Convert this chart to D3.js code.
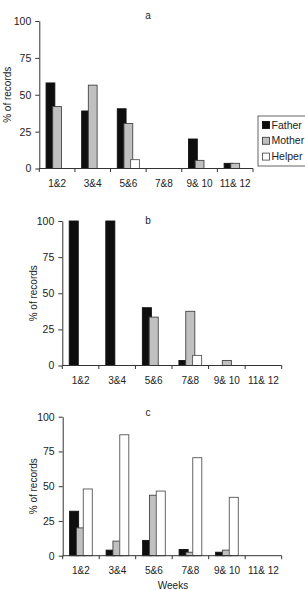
<!DOCTYPE html>
<html>
<head>
<meta charset="utf-8">
<script src="https://cdn.jsdelivr.net/npm/d3@7"></script>
<style>
  body { margin: 0; background: #fff; }
  svg { display: block; font-family: "Liberation Sans", Arial, sans-serif; }
</style>
</head>
<body>
<div id="container"></div>
<script>
// data (% of records per 2-week period)
const weeks = ["1&2", "3&4", "5&6", "7&8", "9& 10", "11& 12"];
const series = ["Father", "Mother", "Helper"];
const yTicks = [0, 25, 50, 75, 100];

const fatherA = [58, 39, 40.5, 0, 20, 3.5];
const motherA = [42, 56.5, 30.5, 0, 5.5, 3.5];
const helperA = [0, 0, 6, 0, 0, 0];

const fatherB = [100, 100, 40, 3.5, 0, 0];
const motherB = [0, 0, 33.5, 37.5, 3.5, 0];
const helperB = [0, 0, 0, 7, 0, 0];

const fatherC = [32, 4, 11, 4.5, 2.5, 0];
const motherC = [20, 10.5, 43.5, 2.5, 4, 0];
const helperC = [48, 87, 46.5, 70.5, 42, 0];

const panels = [
  { label: "a", values: [fatherA, motherA, helperA], left: 39.3, right: 253, top: 21, bottom: 168.5, titleY: 18.5, yTitleX: 7, legend: true },
  { label: "b", values: [fatherB, motherB, helperB], left: 62.3, right: 281.7, top: 221, bottom: 365.5, titleY: 223.5, yTitleX: 33 },
  { label: "c", values: [fatherC, motherC, helperC], left: 62.7, right: 281.7, top: 416.7, bottom: 555.7, titleY: 416, yTitleX: 33, xTitle: "Weeks" }
];

const fills = { Father: "#0e0e0e", Mother: "#c0c0c0", Helper: "#ffffff" };
const strokes = { Father: "#111", Mother: "#444", Helper: "#555" };

const W = 305, H = 590;
const svg = d3.select("#container").append("svg")
  .attr("width", W).attr("height", H);

panels.forEach(p => {
  const g = svg.append("g");

  const x = d3.scaleBand().domain(weeks).range([p.left, p.right]).padding(0);
  const y = d3.scaleLinear().domain([0, 100]).range([p.bottom, p.top]);

  // bars overlap a bit, like the original chart
  const step = x.bandwidth() * 0.187;
  const barW = step * 1.47;
  const off = (x.bandwidth() - (2 * step + barW)) / 2;
  const x1 = d3.scaleBand().domain(series).range([off, off + 3 * step]).padding(0);

  series.forEach((s, si) => {
    const rows = weeks.map((w, i) => ({ week: w, value: p.values[si][i] }))
      .filter(d => d.value > 0);
    g.selectAll("rect.bar-" + s)
      .data(rows)
      .join("rect")
      .attr("class", "bar-" + s)
      .attr("x", d => x(d.week) + x1(s) + 0.5)
      .attr("y", d => y(d.value))
      .attr("width", barW - 1)
      .attr("height", d => y(0) - y(d.value))
      .attr("fill", fills[s])
      .attr("stroke", strokes[s])
      .attr("stroke-width", 0.9);
  });

  // y axis
  const yAxis = d3.axisLeft(y).tickValues(yTicks).tickSize(4).tickPadding(4).tickSizeOuter(0);
  const yg = g.append("g").attr("transform", `translate(${p.left},0)`).call(yAxis);
  yg.select(".domain").attr("stroke", "#333");
  yg.selectAll(".tick line").attr("stroke", "#333");
  yg.selectAll(".tick text").attr("font-size", 10.5).attr("fill", "#222")
    .attr("font-family", "Liberation Sans, Arial, sans-serif");

  // x axis: ticks sit between the categories
  g.append("line")
    .attr("x1", p.left).attr("x2", p.right)
    .attr("y1", p.bottom).attr("y2", p.bottom)
    .attr("stroke", "#333");
  const bounds = weeks.map(w => x(w)).concat([p.right]);
  g.selectAll("line.xtick")
    .data(bounds)
    .join("line")
    .attr("class", "xtick")
    .attr("x1", d => d).attr("x2", d => d)
    .attr("y1", p.bottom).attr("y2", p.bottom + 3.5)
    .attr("stroke", "#333");
  g.selectAll("text.xlab")
    .data(weeks)
    .join("text")
    .attr("class", "xlab")
    .attr("x", d => x(d) + x.bandwidth() / 2)
    .attr("y", p.bottom + 18.5)
    .attr("text-anchor", "middle")
    .attr("font-size", 10)
    .attr("fill", "#222")
    .text(d => d);

  // panel letter
  g.append("text")
    .attr("x", 148).attr("y", p.titleY)
    .attr("text-anchor", "middle")
    .attr("font-size", 10).attr("fill", "#222")
    .text(p.label);

  // y title
  g.append("text")
    .attr("transform", `translate(${p.yTitleX},${(p.top + p.bottom) / 2}) rotate(-90)`)
    .attr("dy", "0.35em")
    .attr("text-anchor", "middle")
    .attr("font-size", 10).attr("fill", "#222")
    .text("% of records");

  if (p.xTitle) {
    g.append("text")
      .attr("x", 173).attr("y", 589)
      .attr("text-anchor", "middle")
      .attr("font-size", 10).attr("fill", "#222")
      .text(p.xTitle);
  }

  if (p.legend) {
    const lg = g.append("g").attr("transform", "translate(258,116)");
    lg.append("rect")
      .attr("x", 0).attr("y", 0).attr("width", 52).attr("height", 50)
      .attr("fill", "#fff").attr("stroke", "#555").attr("stroke-width", 0.9);
    series.forEach((s, i) => {
      const cy = 9 + i * 15.8;
      lg.append("rect")
        .attr("x", 4.5).attr("y", cy - 3.5).attr("width", 7).attr("height", 7)
        .attr("fill", fills[s]).attr("stroke", strokes[s]).attr("stroke-width", 0.9);
      lg.append("text")
        .attr("x", 13.5).attr("y", cy).attr("dy", "0.35em")
        .attr("font-size", 10.5).attr("fill", "#222")
        .text(s);
    });
  }
});
</script>
</body>
</html>
